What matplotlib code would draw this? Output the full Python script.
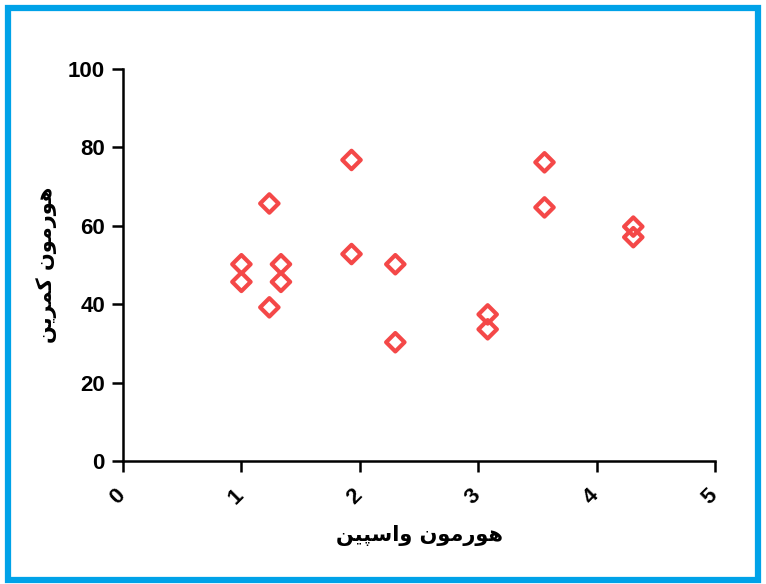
import matplotlib
matplotlib.use("Agg")
import matplotlib.pyplot as plt
from matplotlib.patches import Rectangle
from matplotlib.transforms import ScaledTranslation

# ---- data ----
vaspin = [1.00, 1.00, 1.236, 1.236, 1.334, 1.334, 1.93, 1.93, 2.30, 2.30,
          3.08, 3.08, 3.56, 3.56, 4.31, 4.31]
chemerin = [50.2, 45.7, 65.7, 39.2, 50.2, 45.7, 76.8, 52.8, 50.2, 30.3,
            37.4, 33.6, 76.2, 64.7, 59.8, 57.1]
x_ticks = [0, 1, 2, 3, 4, 5]
y_ticks = [0, 20, 40, 60, 80, 100]
x_label = "هورمون واسپین"
y_label = "هورمون کمرین"

# ---- minimal Arabic/Persian shaping (presentation forms, visual order) ----
FORMS = {  # iso, fin, ini, med
    'ه': ('\uFEE9', '\uFEEA', '\uFEEB', '\uFEEC'),
    'و': ('\uFEED', '\uFEEE', None, None),
    'ر': ('\uFEAD', '\uFEAE', None, None),
    'م': ('\uFEE1', '\uFEE2', '\uFEE3', '\uFEE4'),
    'ن': ('\uFEE5', '\uFEE6', '\uFEE7', '\uFEE8'),
    'ا': ('\uFE8D', '\uFE8E', None, None),
    'س': ('\uFEB1', '\uFEB2', '\uFEB3', '\uFEB4'),
    'پ': ('\uFB56', '\uFB57', '\uFB58', '\uFB59'),
    'ی': ('\uFBFC', '\uFBFD', '\uFBFE', '\uFBFF'),
    'ک': ('\uFB8E', '\uFB8F', '\uFB90', '\uFB91'),
}


def shape(text):
    out = []
    n = len(text)
    for i, ch in enumerate(text):
        if ch not in FORMS:
            out.append(ch)
            continue
        f = FORMS[ch]
        prev = text[i - 1] if i > 0 else None
        nxt = text[i + 1] if i < n - 1 else None
        join_prev = prev in FORMS and FORMS[prev][2] is not None
        join_next = nxt in FORMS and f[2] is not None
        if join_prev and join_next:
            out.append(f[3])
        elif join_prev:
            out.append(f[1])
        elif join_next:
            out.append(f[2])
        else:
            out.append(f[0])
    return ''.join(reversed(out))


fig = plt.figure(figsize=(7.66, 5.84), dpi=100)
ax = fig.add_axes([0.1606, 0.2106, 0.7728, 0.6712])

ax.scatter(vaspin, chemerin, marker='D', s=88, facecolors='none',
           edgecolors='#F44848', linewidths=3.0, zorder=3, clip_on=False)

ax.set_xlim(0, 5)
ax.set_ylim(0, 100)
ax.set_xticks(x_ticks)
ax.set_yticks(y_ticks)
for s in ('top', 'right'):
    ax.spines[s].set_visible(False)
for s in ('left', 'bottom'):
    ax.spines[s].set_linewidth(1.8)
    ax.spines[s].set_color('black')
ax.tick_params(axis='both', direction='out', length=8, width=1.8,
               colors='black')
ax.tick_params(axis='y', pad=5)
ax.tick_params(axis='x', pad=9)
ax.set_xticklabels([str(v) for v in x_ticks], rotation=45, ha='center',
                   va='top', fontsize=16, fontweight='bold',
                   family=['Liberation Sans', 'DejaVu Sans'])
shift = ScaledTranslation(-5 / 100, 0, fig.dpi_scale_trans)
for lab in ax.get_xticklabels():
    lab.set_transform(lab.get_transform() + shift)
ax.set_yticklabels([str(v) for v in y_ticks], fontsize=16, fontweight='bold',
                   family=['Liberation Sans', 'DejaVu Sans'])

ax.set_xlabel(shape(x_label), fontsize=15, fontweight='bold',
              family=['DejaVu Sans'], labelpad=12)
ax.set_ylabel(shape(y_label), fontsize=15, fontweight='bold',
              family=['DejaVu Sans'], labelpad=8)

fig.patches.append(Rectangle((8 / 766, 4 / 584), 750 / 766, 572 / 584,
                             transform=fig.transFigure, fill=False,
                             edgecolor='#00A2E8', linewidth=4.5))

fig.savefig('out.png', dpi=100)
